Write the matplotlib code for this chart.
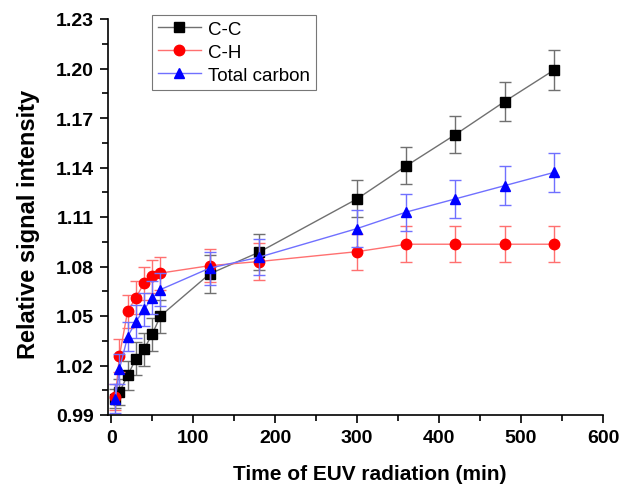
import matplotlib
matplotlib.use("Agg")
import matplotlib.pyplot as plt
from matplotlib.ticker import MultipleLocator

plt.rcParams['font.family'] = ['Liberation Sans', 'DejaVu Sans']

# Data
time = [5, 10, 20, 30, 40, 50, 60, 120, 180, 300, 360, 420, 480, 540]
cc = [1.000, 1.004, 1.014, 1.024, 1.030, 1.039, 1.050, 1.0755, 1.0886, 1.121, 1.141, 1.160, 1.180, 1.199]
cc_err = [0.006, 0.008, 0.009, 0.010, 0.010, 0.010, 0.010, 0.0115, 0.011, 0.0113, 0.0113, 0.0113, 0.0117, 0.012]
ch = [1.001, 1.026, 1.053, 1.061, 1.070, 1.074, 1.076, 1.0805, 1.083, 1.089, 1.0935, 1.0935, 1.0935, 1.0935]
ch_err = [0.008, 0.010, 0.010, 0.010, 0.010, 0.010, 0.010, 0.010, 0.011, 0.011, 0.011, 0.011, 0.011, 0.011]
tc = [1.000, 1.018, 1.0375, 1.0465, 1.054, 1.061, 1.066, 1.079, 1.0856, 1.103, 1.113, 1.121, 1.129, 1.137]
tc_err = [0.009, 0.009, 0.009, 0.010, 0.010, 0.010, 0.010, 0.010, 0.011, 0.011, 0.0112, 0.0115, 0.0117, 0.012]

series_names = ['C-C', 'C-H', 'Total carbon']
xticks = [0, 100, 200, 300, 400, 500, 600]
yticks = [0.99, 1.02, 1.05, 1.08, 1.11, 1.14, 1.17, 1.20, 1.23]

fig = plt.figure(figsize=(6.29, 4.85), dpi=100)
ax = fig.add_axes([108/629, 1 - 416/485, 495/629, 396/485])

styles = [
    (cc, cc_err, 's', 'black', '#707070', 6.5),
    (ch, ch_err, 'o', 'red', '#ff7070', 7.5),
    (tc, tc_err, '^', 'blue', '#7070ff', 7.5),
]
handles = []
for (vals, errs, mk, full, light, ms), name in zip(styles, series_names):
    ax.errorbar(time, vals, yerr=errs, fmt='none', ecolor=light, elinewidth=1.0,
                capsize=4, capthick=1.0)
    h, = ax.plot(time, vals, color=light, lw=1.0, marker=mk, markersize=ms,
                 markerfacecolor=full, markeredgecolor=full, label=name)
    handles.append(h)

ax.set_xlim(-4, 600)
ax.set_ylim(0.99, 1.23)
ax.set_xticks(xticks)
ax.set_yticks(yticks)
ax.set_yticklabels([f"{v:.2f}" for v in yticks])
ax.xaxis.set_minor_locator(MultipleLocator(50))
ax.yaxis.set_minor_locator(MultipleLocator(0.015))

for s in ['top', 'right']:
    ax.spines[s].set_visible(False)
for s in ['left', 'bottom']:
    ax.spines[s].set_linewidth(1.2)

ax.tick_params(which='major', direction='out', length=6, width=1.2, labelsize=14, pad=4)
ax.tick_params(which='minor', direction='out', length=4, width=1.2)
for lab in ax.get_xticklabels() + ax.get_yticklabels():
    lab.set_fontweight('bold')

ax.set_xlabel('Time of EUV radiation (min)', fontsize=15, fontweight='bold')
ax.set_ylabel('Relative signal intensity', fontsize=17, fontweight='bold')
ax.xaxis.set_label_coords(0.529, -0.125)
ax.yaxis.set_label_coords(-0.138, 0.483)

leg = ax.legend(handles=handles, loc='upper left', bbox_to_anchor=(0.089, 1.01),
                borderaxespad=0, fontsize=13.5, frameon=True, fancybox=False,
                edgecolor='#555555', handlelength=2.3, labelspacing=0.32,
                handletextpad=0.4, borderpad=0.3)
leg.get_frame().set_linewidth(0.8)

fig.savefig('out.png', dpi=100)
